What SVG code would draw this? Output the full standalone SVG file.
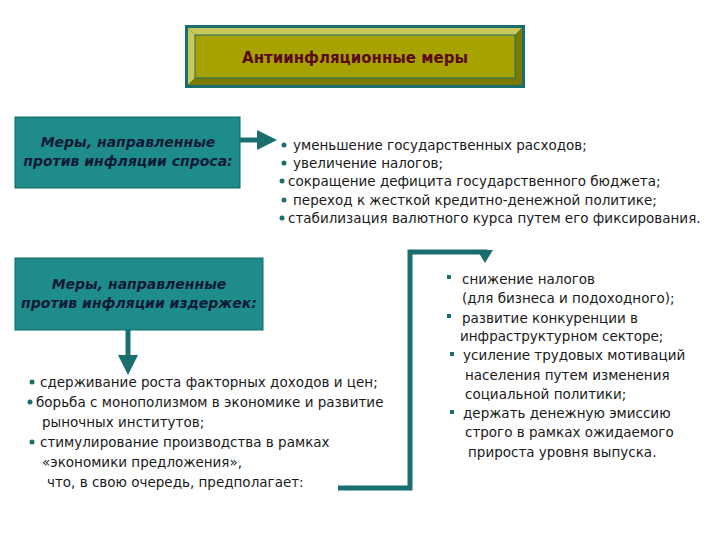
<svg xmlns="http://www.w3.org/2000/svg" width="720" height="540" viewBox="0 0 720 540">
<style>
.t{font-family:"DejaVu Sans","Liberation Sans",sans-serif;font-size:13.5px;fill:#1a1a1a}
.h{font-family:"DejaVu Sans","Liberation Sans",sans-serif;font-size:14px;font-style:italic;font-weight:bold;fill:#0d1a33;text-anchor:middle}
.box{fill:#1f8c8c;stroke:#116666;stroke-width:1}
.ln{stroke:#1a6e6e;stroke-width:5;fill:none}
.b{fill:#1a6e6e}
</style>
<defs>
<marker id="ar" markerWidth="4" markerHeight="4" refX="1" refY="2" orient="auto" markerUnits="strokeWidth"><path d="M0,0 L4,2 L0,4 Z" fill="#1a6e6e"/></marker>
</defs>
<rect width="720" height="540" fill="#fff"/>
<g id="title">
<rect x="185" y="25" width="340" height="63" fill="#1a6e6e"/>
<polygon points="188,28 522,28 515,35 195,35" fill="#c8c85a"/>
<polygon points="188,28 195,35 195,78 188,85" fill="#c8c85a"/>
<polygon points="522,28 522,85 515,78 515,35" fill="#7a7a00"/>
<polygon points="188,85 522,85 515,78 195,78" fill="#7a7a00"/>
<rect x="195" y="35" width="320" height="43" fill="#a6a300" stroke="#1a6e6e" stroke-width="1"/>
<text x="355" y="63" text-anchor="middle" style="font-family:'DejaVu Sans',sans-serif;font-size:15px;font-weight:bold;fill:#5a0a1a">Антиинфляционные меры</text>
</g>
<g id="demand">
<rect class="box" x="15" y="117" width="225" height="71"/>
<text class="h" x="128" y="147">Меры, направленные</text>
<text class="h" x="128" y="166">против инфляции спроса:</text>
</g>
<g id="cost">
<rect class="box" x="15" y="258" width="248" height="72"/>
<text class="h" x="139" y="289">Меры, направленные</text>
<text class="h" x="139" y="308">против инфляции издержек:</text>
</g>
<g id="connectors">
<line class="ln" x1="240" y1="140" x2="262" y2="140" marker-end="url(#ar)"/>
<line class="ln" x1="128" y1="330" x2="128" y2="360" marker-end="url(#ar)"/>
<polyline class="ln" points="338,488 410,488 410,252 485,252 485,254"/>
<polygon points="477,250 493,250 485,263" fill="#1a6e6e"/>
</g>
<g id="list1">
<circle class="b" cx="284" cy="145" r="2.5"/><text class="t" x="293" y="150">уменьшение государственных расходов;</text>
<circle class="b" cx="284" cy="163" r="2.5"/><text class="t" x="293" y="168">увеличение налогов;</text>
<circle class="b" cx="282" cy="181" r="2.5"/><text class="t" x="288" y="186">сокращение дефицита государственного  бюджета;</text>
<circle class="b" cx="284" cy="200" r="2.5"/><text class="t" x="293" y="205">переход к жесткой кредитно-денежной  политике;</text>
<circle class="b" cx="282" cy="218" r="2.5"/><text class="t" x="288" y="223">стабилизация валютного курса путем его фиксирования.</text>
</g>
<g id="list2">
<circle class="b" cx="32" cy="382" r="2.5"/><text class="t" x="40" y="387">сдерживание роста факторных доходов и цен;</text>
<circle class="b" cx="30" cy="402" r="2.5"/><text class="t" x="36" y="407">борьба с монополизмом в экономике и развитие</text>
<text class="t" x="42" y="427">рыночных институтов;</text>
<circle class="b" cx="32" cy="442" r="2.5"/><text class="t" x="40" y="447">стимулирование производства в рамках</text>
<text class="t" x="42" y="467">«экономики предложения»,</text>
<text class="t" x="47" y="487">что, в свою очередь, предполагает:</text>
</g>
<g id="list3">
<rect class="b" x="447" y="275" width="4" height="4"/><text class="t" x="462" y="284">снижение налогов</text>
<text class="t" x="462" y="303">(для бизнеса и подоходного);</text>
<rect class="b" x="447" y="314" width="4" height="4"/><text class="t" x="462" y="323">развитие конкуренции в</text>
<text class="t" x="460" y="341">инфраструктурном секторе;</text>
<rect class="b" x="450" y="352" width="4" height="4"/><text class="t" x="463" y="360">усиление трудовых мотиваций</text>
<text class="t" x="465" y="380">населения путем изменения</text>
<text class="t" x="465" y="399">социальной политики;</text>
<rect class="b" x="450" y="410" width="4" height="4"/><text class="t" x="463" y="418">держать денежную эмиссию</text>
<text class="t" x="465" y="437">строго в рамках  ожидаемого</text>
<text class="t" x="468" y="457">прироста уровня выпуска.</text>
</g>
</svg>
